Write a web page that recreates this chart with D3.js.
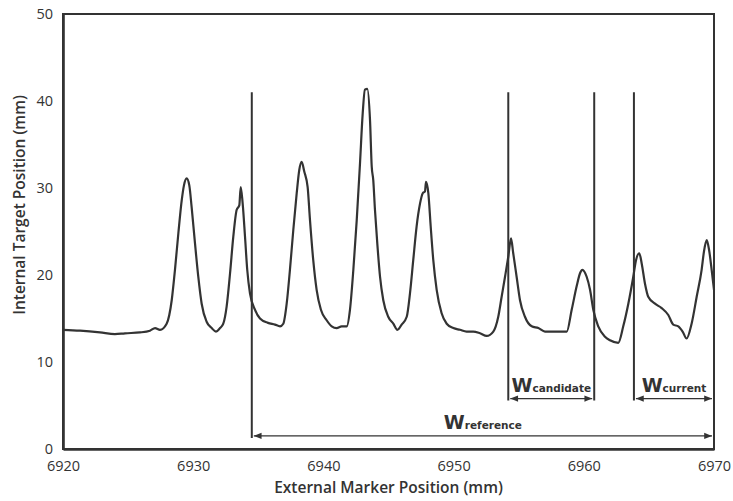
<!DOCTYPE html>
<html>
<head>
<meta charset="utf-8">
<script src="https://cdn.jsdelivr.net/npm/d3@7"></script>
<style>
  html, body { margin: 0; padding: 0; background: #fff; }
  svg { display: block; }
  text { font-family: "Open Sans", "DejaVu Sans", sans-serif; fill: #333; }
</style>
</head>
<body>
<svg id="chart" width="733" height="501"></svg>
<script>
// ---- data ----
const xTicks = [6920, 6930, 6940, 6950, 6960, 6970];
const yTicks = [0, 10, 20, 30, 40, 50];

const traceX = [
  6920.00, 6921.31, 6922.84, 6923.99, 6924.76, 6925.91, 6926.68, 6927.07, 6927.45, 6927.96,
  6928.35, 6928.60, 6928.86, 6929.12, 6929.29, 6929.50, 6929.70, 6929.88, 6930.14, 6930.39,
  6930.65, 6931.04, 6931.42, 6931.75, 6932.06, 6932.31, 6932.57, 6932.83, 6933.08, 6933.34,
  6933.54, 6933.65, 6933.80, 6933.98, 6934.15, 6934.36, 6934.75, 6935.13, 6935.74, 6936.28,
  6936.67, 6936.92, 6937.18, 6937.43, 6937.69, 6937.95, 6938.15, 6938.33, 6938.53, 6938.79,
  6938.97, 6939.22, 6939.48, 6939.81, 6940.25, 6940.64, 6941.02, 6941.40, 6941.79, 6942.04,
  6942.30, 6942.56, 6942.81, 6943.02, 6943.19, 6943.37, 6943.58, 6943.71, 6943.83, 6943.96,
  6944.14, 6944.35, 6944.60, 6944.98, 6945.37, 6945.68, 6946.01, 6946.40, 6946.65, 6946.90,
  6947.16, 6947.42, 6947.63, 6947.80, 6947.88, 6948.06, 6948.24, 6948.44, 6948.70, 6949.08,
  6949.47, 6949.98, 6950.49, 6951.00, 6951.51, 6952.03, 6952.54, 6953.05, 6953.43, 6953.69,
  6953.95, 6954.20, 6954.41, 6954.58, 6954.84, 6955.10, 6955.48, 6956.00, 6956.51, 6957.02,
  6957.79, 6958.69, 6959.07, 6959.45, 6959.71, 6959.89, 6960.22, 6960.48, 6960.73, 6961.11,
  6961.63, 6962.01, 6962.65, 6963.03, 6963.42, 6963.80, 6964.01, 6964.26, 6964.45, 6964.70,
  6964.95, 6965.47, 6965.98, 6966.49, 6966.87, 6967.26, 6967.59, 6967.90, 6968.28, 6968.67,
  6969.05, 6969.23, 6969.44, 6969.62, 6969.82, 6970.00
];
const traceY = [
  13.7, 13.6, 13.4, 13.2, 13.3, 13.4, 13.6, 13.9, 13.7, 14.4,
  17.1, 20.6, 24.8, 28.6, 30.3, 31.1, 30.3, 27.8, 23.6, 19.8,
  16.7, 14.6, 13.9, 13.5, 13.9, 14.4, 16.4, 20.2, 24.4, 27.5,
  28.0, 30.1, 28.2, 24.4, 20.6, 17.9, 16.0, 15.0, 14.5, 14.3,
  14.1, 14.4, 16.7, 20.6, 25.2, 29.4, 32.1, 33.0, 31.9, 30.1,
  26.3, 21.7, 18.3, 16.0, 14.8, 14.1, 13.9, 14.1, 14.1, 16.0,
  20.6, 26.3, 32.8, 38.6, 41.3, 41.4, 37.8, 32.5, 30.9, 27.5,
  23.6, 19.8, 17.1, 15.2, 14.4, 13.7, 14.3, 15.2, 17.9, 21.7,
  25.6, 28.2, 29.4, 29.6, 30.7, 29.4, 25.6, 21.7, 18.3, 15.6,
  14.4, 13.9, 13.7, 13.5, 13.5, 13.3, 13.0, 13.5, 15.2, 17.5,
  19.8, 22.1, 24.2, 22.5, 19.8, 17.1, 15.2, 14.1, 13.9, 13.5,
  13.5, 13.5, 16.0, 18.7, 20.2, 20.6, 19.8, 18.3, 16.0, 14.1,
  12.9, 12.5, 12.2, 14.1, 16.7, 19.8, 21.7, 22.5, 21.3, 19.0,
  17.5, 16.7, 16.2, 15.4, 14.3, 14.1, 13.5, 12.7, 14.4, 17.5,
  20.6, 22.7, 24.0, 22.9, 20.6, 18.3
];

// window markers
const windowNames = ["reference", "candidate", "current"];
const windowStart = [6934.5, 6954.2, 6963.85];
const windowEnd   = [6970, 6960.8, 6970];
const windowLevel = [1.5, 5.8, 5.8];
const markerTop = 41;

// ---- layout ----
const svg = d3.select("#chart");
const mLeft = 63, mRight = 714, mTop = 14, mBottom = 449;

const x = d3.scaleLinear().domain([6920, 6970]).range([mLeft, mRight]);
const y = d3.scaleLinear().domain([0, 50]).range([mBottom, mTop]);

const ink = "#333";

// frame (top & right)
svg.append("rect")
  .attr("x", mLeft).attr("y", mTop)
  .attr("width", mRight - mLeft).attr("height", mBottom - mTop)
  .attr("fill", "none").attr("stroke", ink).attr("stroke-width", 2);

// axes
const xAxis = svg.append("g").attr("transform", `translate(0,${mBottom})`)
  .call(d3.axisBottom(x).tickValues(xTicks).tickSize(0).tickPadding(12).tickFormat(d3.format("d")));
const yAxis = svg.append("g").attr("transform", `translate(${mLeft},0)`)
  .call(d3.axisLeft(y).tickValues(yTicks).tickSize(0).tickPadding(10));
[xAxis, yAxis].forEach(g => {
  g.select(".domain").attr("stroke", ink).attr("stroke-width", 2.6);
  g.selectAll("text").style("font-family", "'Open Sans', sans-serif")
    .style("font-size", "14.5px").attr("fill", "#3a3a3a");
});

// axis titles
svg.append("text")
  .attr("x", (mLeft + mRight) / 2).attr("y", 493)
  .attr("text-anchor", "middle")
  .style("font-size", "15.5px").style("font-weight", "600")
  .text("External Marker Position (mm)");
svg.append("text")
  .attr("transform", `translate(25,${205}) rotate(-90)`)
  .attr("text-anchor", "middle")
  .style("font-size", "15.5px").style("font-weight", "600")
  .text("Internal Target Position (mm)");

// trace
const pts = traceX.map((d, i) => [d, traceY[i]]);
svg.append("path")
  .datum(pts)
  .attr("fill", "none").attr("stroke", ink).attr("stroke-width", 2.2)
  .attr("stroke-linejoin", "round")
  .attr("d", d3.line().curve(d3.curveMonotoneX).x(d => x(d[0])).y(d => y(d[1])));

// arrow markers
const defs = svg.append("defs");
defs.append("marker").attr("id", "arrowEnd")
  .attr("viewBox", "0 0 10 10").attr("refX", 10).attr("refY", 5)
  .attr("markerWidth", 7).attr("markerHeight", 6).attr("orient", "auto")
  .append("path").attr("d", "M0,1 L10,5 L0,9 Z").attr("fill", ink);
defs.append("marker").attr("id", "arrowStart")
  .attr("viewBox", "0 0 10 10").attr("refX", 0).attr("refY", 5)
  .attr("markerWidth", 7).attr("markerHeight", 6).attr("orient", "auto")
  .append("path").attr("d", "M10,1 L0,5 L10,9 Z").attr("fill", ink);

// vertical window boundary lines
windowNames.forEach((name, i) => {
  [windowStart[i], windowEnd[i]].forEach(v => {
    svg.append("line")
      .attr("x1", x(v)).attr("x2", x(v))
      .attr("y1", y(markerTop)).attr("y2", y(windowLevel[i]) + 2)
      .attr("stroke", ink).attr("stroke-width", 2);
  });
  svg.append("line")
    .attr("x1", x(windowStart[i]) + 2).attr("x2", x(windowEnd[i]) - 2)
    .attr("y1", y(windowLevel[i])).attr("y2", y(windowLevel[i]))
    .attr("stroke", ink).attr("stroke-width", 1.3)
    .attr("marker-start", "url(#arrowStart)").attr("marker-end", "url(#arrowEnd)");
  const t = svg.append("text")
    .attr("x", (x(windowStart[i]) + x(windowEnd[i])) / 2)
    .attr("y", y(windowLevel[i]) - 7)
    .attr("text-anchor", "middle")
    .style("font-family", "'DejaVu Sans', sans-serif").style("font-weight", "bold");
  t.append("tspan").style("font-size", "19px").text("W");
  t.append("tspan").style("font-size", "10.5px").text(name);
});
</script>
</body>
</html>
